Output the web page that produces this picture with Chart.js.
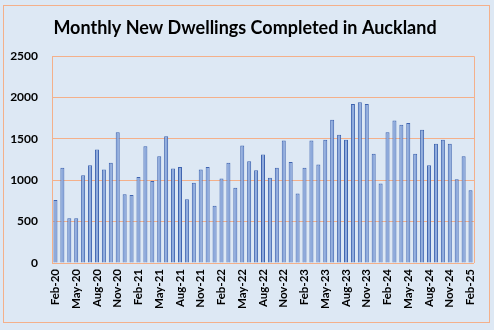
<!DOCTYPE html>
<html>
<head>
<meta charset="utf-8">
<script src="https://cdn.jsdelivr.net/npm/chart.js@4.4.1/dist/chart.umd.min.js"></script>
<style>
    html, body { margin: 0; padding: 0; background: #dde8f4; }
    #wrap { width: 494px; height: 330px; position: relative; }
</style>
</head>
<body>
<div id="wrap"><canvas id="chart" width="494" height="330"></canvas></div>
<script>
// Monthly completions, Feb 2020 to Feb 2025
const months = [
    'Feb-20','Mar-20','Apr-20','May-20','Jun-20','Jul-20','Aug-20','Sep-20','Oct-20','Nov-20','Dec-20','Jan-21',
    'Feb-21','Mar-21','Apr-21','May-21','Jun-21','Jul-21','Aug-21','Sep-21','Oct-21','Nov-21','Dec-21','Jan-22',
    'Feb-22','Mar-22','Apr-22','May-22','Jun-22','Jul-22','Aug-22','Sep-22','Oct-22','Nov-22','Dec-22','Jan-23',
    'Feb-23','Mar-23','Apr-23','May-23','Jun-23','Jul-23','Aug-23','Sep-23','Oct-23','Nov-23','Dec-23','Jan-24',
    'Feb-24','Mar-24','Apr-24','May-24','Jun-24','Jul-24','Aug-24','Sep-24','Oct-24','Nov-24','Dec-24','Jan-25',
    'Feb-25'
];
const dwellings = [
    760, 1150, 540, 540, 1060, 1180, 1370, 1130, 1210, 1580, 830, 820,
    1040, 1410, 990, 1290, 1530, 1140, 1160, 770, 970, 1130, 1160, 690,
    1020, 1210, 910, 1420, 1230, 1120, 1310, 1030, 1150, 1480, 1220, 840,
    1150, 1480, 1190, 1490, 1730, 1550, 1490, 1920, 1940, 1920, 1320, 960,
    1580, 1720, 1670, 1690, 1320, 1610, 1180, 1440, 1490, 1440, 1010, 1290,
    880
];
const yTicks = [0, 500, 1000, 1500, 2000, 2500];
const titleText = 'Monthly New Dwellings Completed in Auckland';

const salmon = '#f4b08a';

// outer frame, title and plot-area border
const framePlugin = {
    id: 'frame',
    beforeDraw(chart) {
        const ctx = chart.ctx;
        ctx.save();
        ctx.strokeStyle = salmon;
        ctx.lineWidth = 1;
        ctx.strokeRect(3.5, 5.5, 486, 317);
        ctx.fillStyle = '#000';
        ctx.font = 'bold 18px Lato';
        ctx.textAlign = 'center';
        ctx.textBaseline = 'middle';
        ctx.fillText(titleText, 245, 28);
        ctx.restore();
    },
    afterDatasetsDraw(chart) {
        const a = chart.chartArea;
        const ctx = chart.ctx;
        ctx.save();
        ctx.strokeStyle = salmon;
        ctx.lineWidth = 1;
        ctx.beginPath();
        ctx.moveTo(Math.round(a.left) + 0.5, a.bottom);
        ctx.lineTo(Math.round(a.left) + 0.5, Math.round(a.top) + 0.5);
        ctx.lineTo(Math.round(a.right) + 0.5, Math.round(a.top) + 0.5);
        ctx.lineTo(Math.round(a.right) + 0.5, a.bottom);
        ctx.stroke();
        ctx.restore();
    }
};

new Chart(document.getElementById('chart'), {
    type: 'bar',
    data: {
        labels: months,
        datasets: [{
            data: dwellings,
            backgroundColor: '#8eaadc',
            borderColor: '#3f64b0',
            borderWidth: 1,
            barPercentage: 0.58,
            categoryPercentage: 1
        }]
    },
    options: {
        responsive: false,
        animation: false,
        layout: { padding: { left: 0, right: 20, top: 56, bottom: 0 } },
        plugins: {
            legend: { display: false },
            tooltip: { enabled: false }
        },
        scales: {
            x: {
                grid: { display: false, drawTicks: false },
                border: { display: false },
                ticks: {
                    autoSkip: false,
                    maxRotation: 90,
                    minRotation: 90,
                    padding: 6,
                    color: '#000',
                    font: { family: 'Lato', size: 11.5, weight: 'bold' },
                    callback: (v, i) => i % 3 === 0 ? months[i] : ''
                },
                afterFit: s => { s.height = 67; }
            },
            y: {
                min: 0,
                max: 2500,
                afterBuildTicks: s => { s.ticks = yTicks.map(v => ({ value: v })); },
                grid: { color: salmon, drawTicks: false },
                border: { display: false },
                ticks: {
                    padding: 14,
                    color: '#000',
                    font: { family: 'Lato', size: 12, weight: 'bold' },
                    callback: v => String(v)
                },
                afterFit: s => { s.width = 52; }
            }
        }
    },
    plugins: [framePlugin]
});
</script>
</body>
</html>
